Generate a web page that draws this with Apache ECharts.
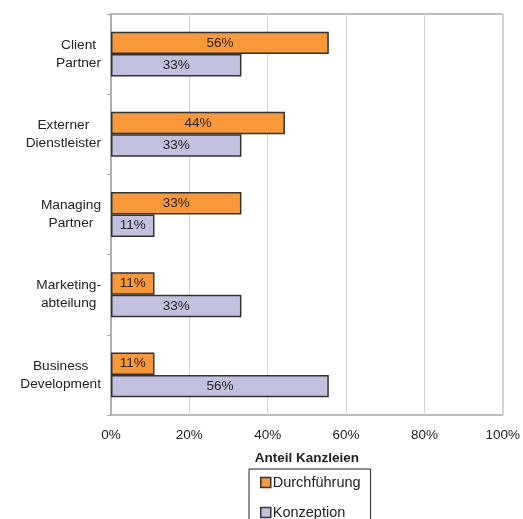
<!DOCTYPE html>
<html><head><meta charset="utf-8">
<script src="https://cdn.jsdelivr.net/npm/echarts@6/dist/echarts.min.js"></script>
<style>html,body{margin:0;padding:0;background:#fff}#c{width:523px;height:519px}</style>
</head><body><div id="c"></div>
<script>
const categories = ['Client\nPartner', 'Externer\nDienstleister', 'Managing\nPartner', 'Marketing-\nabteilung', 'Business\nDevelopment'];
const durchfuehrung = [55.6, 44.4, 33.3, 11.1, 11.1];
const konzeption = [33.3, 33.3, 11.1, 33.3, 55.6];
const xTicks = [0, 20, 40, 60, 80, 100];

const font = 'Liberation Sans, Arial, sans-serif';
const chart = echarts.init(document.getElementById('c'));
const labelCfg = {show: true, position: 'inside', color: '#222', fontSize: 13.5, fontFamily: font,
  formatter: p => Math.round(p.value) + '%'};
chart.setOption({
  animation: false,
  grid: {left: 111, right: 19, top: 14, bottom: 104, show: true, borderColor: '#a6a6a6', borderWidth: 1.5},
  xAxis: {type: 'value', min: 0, max: 100, interval: 20,
    axisLine: {show: false}, axisTick: {show: false},
    splitLine: {lineStyle: {color: '#d4d4d4', width: 1}},
    axisLabel: {color: '#222', fontSize: 13.5, fontFamily: font, margin: 13,
      formatter: v => xTicks.includes(v) ? v + '%' : ''},
    name: 'Anteil Kanzleien', nameLocation: 'middle', nameGap: 36,
    nameTextStyle: {fontWeight: 'bold', fontSize: 13.5, color: '#222', fontFamily: font}
  },
  yAxis: {type: 'category', data: categories, inverse: true,
    axisLine: {lineStyle: {color: '#a6a6a6', width: 1.5}},
    axisTick: {show: true, length: 4, lineStyle: {color: '#a6a6a6'}},
    axisLabel: {color: '#222', fontSize: 13.5, fontFamily: font, lineHeight: 18, margin: 10, align: 'right',
      formatter: v => v.split('\n').map(s => '{c|' + s + '}').join('\n'),
      rich: {c: {align: 'center', fontSize: 13.7, lineHeight: 18, fontFamily: font, color: '#222'}}},
    splitLine: {show: false}
  },
  legend: {orient: 'vertical', left: 249, top: 469, height: 80, padding: [6, 10, 20, 11], itemGap: 15,
    itemWidth: 10, itemHeight: 10, itemStyle: {borderColor: '#333', borderWidth: 1.5},
    borderColor: '#222', borderWidth: 1, icon: 'rect',
    textStyle: {fontSize: 14.5, color: '#222', fontFamily: font, padding: [0, 0, 0, -3]},
    data: ['Durchführung', 'Konzeption']},
  series: [
    {name: 'Durchführung', type: 'bar', data: durchfuehrung, barGap: '0%', barCategoryGap: '44%',
      itemStyle: {color: '#F7993A', borderColor: '#333', borderWidth: 1.5}, label: labelCfg},
    {name: 'Konzeption', type: 'bar', data: konzeption,
      itemStyle: {color: '#C2C2E0', borderColor: '#333', borderWidth: 1.5}, label: labelCfg}
  ]
});
</script></body></html>
